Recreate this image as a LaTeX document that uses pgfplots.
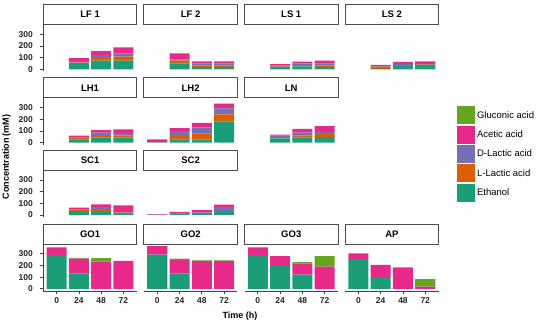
\documentclass[border=0pt]{standalone}
\usepackage{fontspec}
\setmainfont{Liberation Sans}
\usepackage{pgfplots}
\usepackage{pgfplotstable}
\pgfplotsset{compat=1.18}
\definecolor{cE}{HTML}{1B9E77}
\definecolor{cL}{HTML}{D95F02}
\definecolor{cD}{HTML}{7570B3}
\definecolor{cA}{HTML}{E7298A}
\definecolor{cG}{HTML}{66A61E}

% columns: x = index (1=0 h, 2=24 h, 3=48 h, 4=72 h), E=Ethanol, L=L-Lactic, D=D-Lactic, A=Acetic, G=Gluconic
\pgfplotstableread{
x E L D A G
1 0 0 0 0 0
2 45 12 12 27 0
3 74 22 26 34 0
4 74 34 28 51 0
}\LFone
\pgfplotstableread{
x E L D A G
1 0 0 0 0 0
2 51 23 11 51 0
3 20 14 17 17 0
4 20 14 17 17 0
}\LFtwo
\pgfplotstableread{
x E L D A G
1 0 0 0 0 0
2 12 10 10 12 0
3 25 10 14 17 0
4 20 14 14 25 0
}\LSone
\pgfplotstableread{
x E L D A G
1 0 0 0 0 0
2 3 20 5 10 0
3 28 8 11 17 0
4 37 3 3 25 0
}\LStwo
\pgfplotstableread{
x E L D A G
1 0 0 0 0 0
2 28 15 5 12 0
3 45 20 20 22 0
4 45 17 20 31 0
}\LHone
\pgfplotstableread{
x E L D A G
1 3 0 0 25 0
2 28 37 34 25 0
3 28 51 51 40 0
4 181 62 51 40 0
}\LHtwo
\pgfplotstableread{
x E L D A G
1 0 0 0 0 0
2 37 11 14 6 0
3 45 17 25 31 0
4 48 25 20 48 0
}\LN
\pgfplotstableread{
x E L D A G
1 0 0 0 0 0
2 33 12 5 12 0
3 32 18 17 24 0
4 9 12 6 55 0
}\SCone
\pgfplotstableread{
x E L D A G
1 0 0 3 5 0
2 14 0 2 10 0
3 15 0 6 20 0
4 26 0 41 21 0
}\SCtwo
\pgfplotstableread{
x E L D A G
1 288 0 0 67 0
2 133 0 0 127 5
3 0 0 0 233 30
4 0 0 0 240 0
}\GOone
\pgfplotstableread{
x E L D A G
1 294 0 0 72 0
2 133 0 0 115 12
3 0 0 0 240 5
4 0 0 0 240 5
}\GOtwo
\pgfplotstableread{
x E L D A G
1 288 0 0 67 0
2 196 0 0 84 0
3 121 0 0 95 14
4 0 0 0 190 90
}\GOthree
\pgfplotstableread{
x E L D A G
1 257 0 0 46 0
2 92 0 0 113 0
3 0 0 0 179 5
4 0 0 0 20 63
}\AP

\pgfplotsset{
  every non boxed x axis/.style={},
  every non boxed y axis/.style={},
  base/.style={
    scale only axis, width=93.5pt, height=47pt, anchor=south west,
    xmin=0.4, xmax=4.6, ymin=-18.3, ymax=384.3,
    ybar stacked, bar width=0.9, clip=false,
    tick align=outside, major tick length=3.5pt,
    tick style={black!75, line width=0.8pt},
    ticklabel style={font=\bfseries\fontsize{8.5}{9}\selectfont, text=black!85},
    /pgf/number format/assume math mode=true,
    ytick={0,100,200,300}, xtick={1,2,3,4}, xticklabels={0,24,48,72},
    yticklabel style={xshift=-3.5pt},
    every axis plot/.append style={draw=none},
    legend image code/.code={\fill[##1] (0pt,-9pt) rectangle (18pt,9pt);},
  },
  ycol/.style={axis y line=left},
  nocol/.style={axis y line=none, ytick=\empty},
  toprow/.style={axis x line=none, xtick=\empty},
  botrow/.style={axis x line=bottom},
  fixlines/.style={axis line style={-, black!75, line width=0.9pt},
    x axis line style={-}, y axis line style={-},
    every outer x axis line/.append style={-},
    every outer y axis line/.append style={-},
    every inner x axis line/.append style={-},
    every inner y axis line/.append style={-}},
}
\tikzset{strip/.style={draw=black!70, line width=0.9pt, fill=white,
  minimum width=93.5pt, minimum height=20pt, anchor=south, inner sep=0pt,
  outer sep=0pt, font=\bfseries\fontsize{9.5}{10}\selectfont}}

\newcommand{\panel}[5]{%
\begin{axis}[base, at={(#2pt,#3pt)}, #5, fixlines]
\addplot[fill=cE] table[x=x,y=E]{#1};
\addplot[fill=cL] table[x=x,y=L]{#1};
\addplot[fill=cD] table[x=x,y=D]{#1};
\addplot[fill=cA] table[x=x,y=A]{#1};
\addplot[fill=cG] table[x=x,y=G]{#1};
\node[strip] at (rel axis cs:0.5,1) {#4};
\end{axis}}

\begin{document}
\begin{tikzpicture}
\panel{\LFone}{43.3}{-71.4}{LF 1}{ycol,toprow}
\panel{\LFtwo}{143.9}{-71.4}{LF 2}{nocol,toprow}
\panel{\LSone}{244.5}{-71.4}{LS 1}{nocol,toprow}
\panel{\LStwo}{345.1}{-71.4}{LS 2}{nocol,toprow}
\panel{\LHone}{43.3}{-144.8}{LH1}{ycol,toprow}
\panel{\LHtwo}{143.9}{-144.8}{LH2}{nocol,toprow}
\panel{\LN}{244.5}{-144.8}{LN}{nocol,toprow}
\panel{\SCone}{43.3}{-217.1}{SC1}{ycol,toprow}
\panel{\SCtwo}{143.9}{-217.1}{SC2}{nocol,toprow}
\panel{\GOone}{43.3}{-291}{GO1}{ycol,botrow}
\panel{\GOtwo}{143.9}{-291}{GO2}{nocol,botrow}
\panel{\GOthree}{244.5}{-291}{GO3}{nocol,botrow}
\panel{\AP}{345.1}{-291}{AP}{nocol,botrow,
  legend entries={Ethanol,L-Lactic acid,D-Lactic acid,Acetic acid,Gluconic acid},
  reverse legend,
  legend style={at={(axis description cs:1.19,3.93)}, anchor=north west,
    draw=none, fill=none, font=\fontsize{9.5}{10}\selectfont,
    inner sep=0pt, row sep=1.3pt, nodes={inner ysep=1.2pt, inner xsep=2.5pt}},
  legend cell align=left}
\node[rotate=90, font=\bfseries\fontsize{9}{10}\selectfont] at (6.5pt,-157pt) {Concentration (mM)};
\node[font=\bfseries\fontsize{9}{10}\selectfont] at (240pt,-316pt) {Time (h)};
\pgfresetboundingbox
\useasboundingbox (0pt,0pt) rectangle (550pt,-323pt);
\end{tikzpicture}
\end{document}
